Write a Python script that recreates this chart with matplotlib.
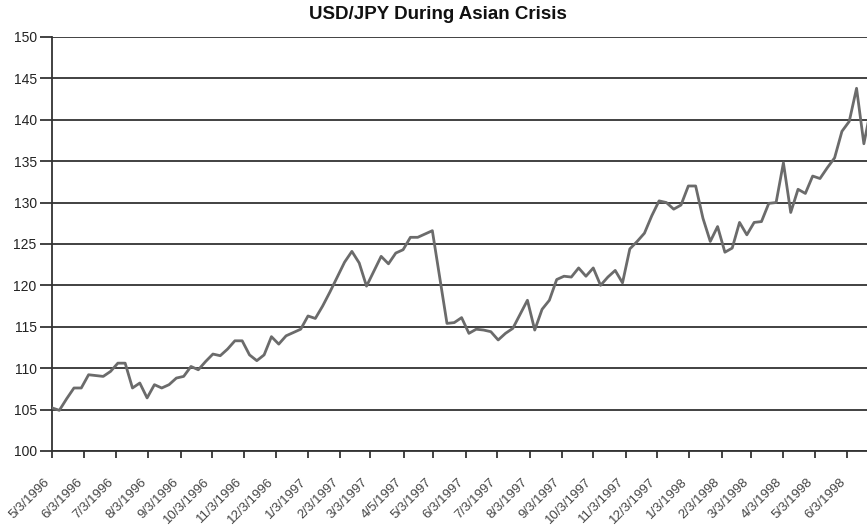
import pandas as pd
import matplotlib as mpl
mpl.use('Agg')
import matplotlib.pyplot as plt
from matplotlib.transforms import ScaledTranslation

# weekly USD/JPY closes, first week = 5/3/1996
start_date = '1996-05-03'
usdjpy = [105.2, 104.9, 106.3, 107.6, 107.6, 109.2, 109.1, 109.0, 109.6, 110.6,
          110.6, 107.6, 108.2, 106.4, 108.0, 107.6, 108.0, 108.8, 109.0, 110.2,
          109.8, 110.8, 111.7, 111.5, 112.3, 113.3, 113.3, 111.6, 110.9, 111.6,
          113.8, 112.9, 113.9, 114.3, 114.7, 116.3, 116.0, 117.5, 119.2, 121.0,
          122.8, 124.1, 122.7, 119.9, 121.7, 123.5, 122.6, 123.9, 124.3, 125.8,
          125.8, 126.2, 126.6, 121.0, 115.4, 115.5, 116.1, 114.2, 114.7, 114.6,
          114.4, 113.4, 114.2, 114.8, 116.5, 118.2, 114.6, 117.1, 118.2, 120.7,
          121.1, 121.0, 122.1, 121.1, 122.1, 120.0, 121.0, 121.8, 120.3, 124.4,
          125.3, 126.3, 128.4, 130.2, 130.0, 129.2, 129.7, 132.0, 132.0, 128.1,
          125.3, 127.1, 124.0, 124.5, 127.6, 126.1, 127.6, 127.7, 129.9, 130.0,
          134.8, 128.8, 131.6, 131.1, 133.2, 132.9, 134.2, 135.4, 138.6, 139.8,
          143.8, 137.1, 141.5]

tick_labels = ['5/3/1996', '6/3/1996', '7/3/1996', '8/3/1996', '9/3/1996',
               '10/3/1996', '11/3/1996', '12/3/1996', '1/3/1997', '2/3/1997',
               '3/3/1997', '4/5/1997', '5/3/1997', '6/3/1997', '7/3/1997',
               '8/3/1997', '9/3/1997', '10/3/1997', '11/3/1997', '12/3/1997',
               '1/3/1998', '2/3/1998', '3/3/1998', '4/3/1998', '5/3/1998',
               '6/3/1998']
y_ticks = [100, 105, 110, 115, 120, 125, 130, 135, 140, 145, 150]

dates = pd.date_range(start_date, periods=len(usdjpy), freq='7D')
tick_dates = pd.to_datetime(tick_labels, format='%m/%d/%Y')

plt.rcParams['font.family'] = ['Liberation Sans', 'DejaVu Sans']

fig = plt.figure(figsize=(8.67, 5.28), dpi=100, facecolor='white')
ax = fig.add_axes([0.060, 0.146, 0.940, 0.784])

ax.plot(dates, usdjpy, color='#6b6b6b', lw=2.0, zorder=3)

ax.set_ylim(100, 150)
ax.set_yticks(y_ticks)
ax.set_xlim(pd.Timestamp(start_date), pd.Timestamp('1998-06-22'))
ax.set_xticks(tick_dates)
ax.set_xticklabels([])

# date labels sit a bit lower and left of their tick in the original
shift = ScaledTranslation(-0.08, -0.25, fig.dpi_scale_trans)
for d, lab in zip(tick_dates, tick_labels):
    ax.text(d, 0, lab, transform=ax.get_xaxis_transform() + shift,
            rotation=45, ha='right', va='top', rotation_mode='anchor',
            fontsize=9.5, color='#444444', clip_on=False)

ax.tick_params(axis='y', labelsize=10, colors='#222222', length=9, width=1.2, pad=2)
ax.tick_params(axis='x', length=5, width=1.2, color='#222222')

ax.yaxis.grid(True, color='#333333', lw=1.3)
ax.set_axisbelow(True)
for s in ['top', 'right']:
    ax.spines[s].set_visible(False)
ax.spines['left'].set_color('#333333')
ax.spines['left'].set_linewidth(1.3)
ax.spines['bottom'].set_color('#333333')
ax.spines['bottom'].set_linewidth(1.3)

fig.text(0.505, 0.972, 'USD/JPY During Asian Crisis', ha='center', va='center',
         fontsize=13.5, fontweight='bold', color='#111111')

plt.savefig('out.png', dpi=100, facecolor='white')
